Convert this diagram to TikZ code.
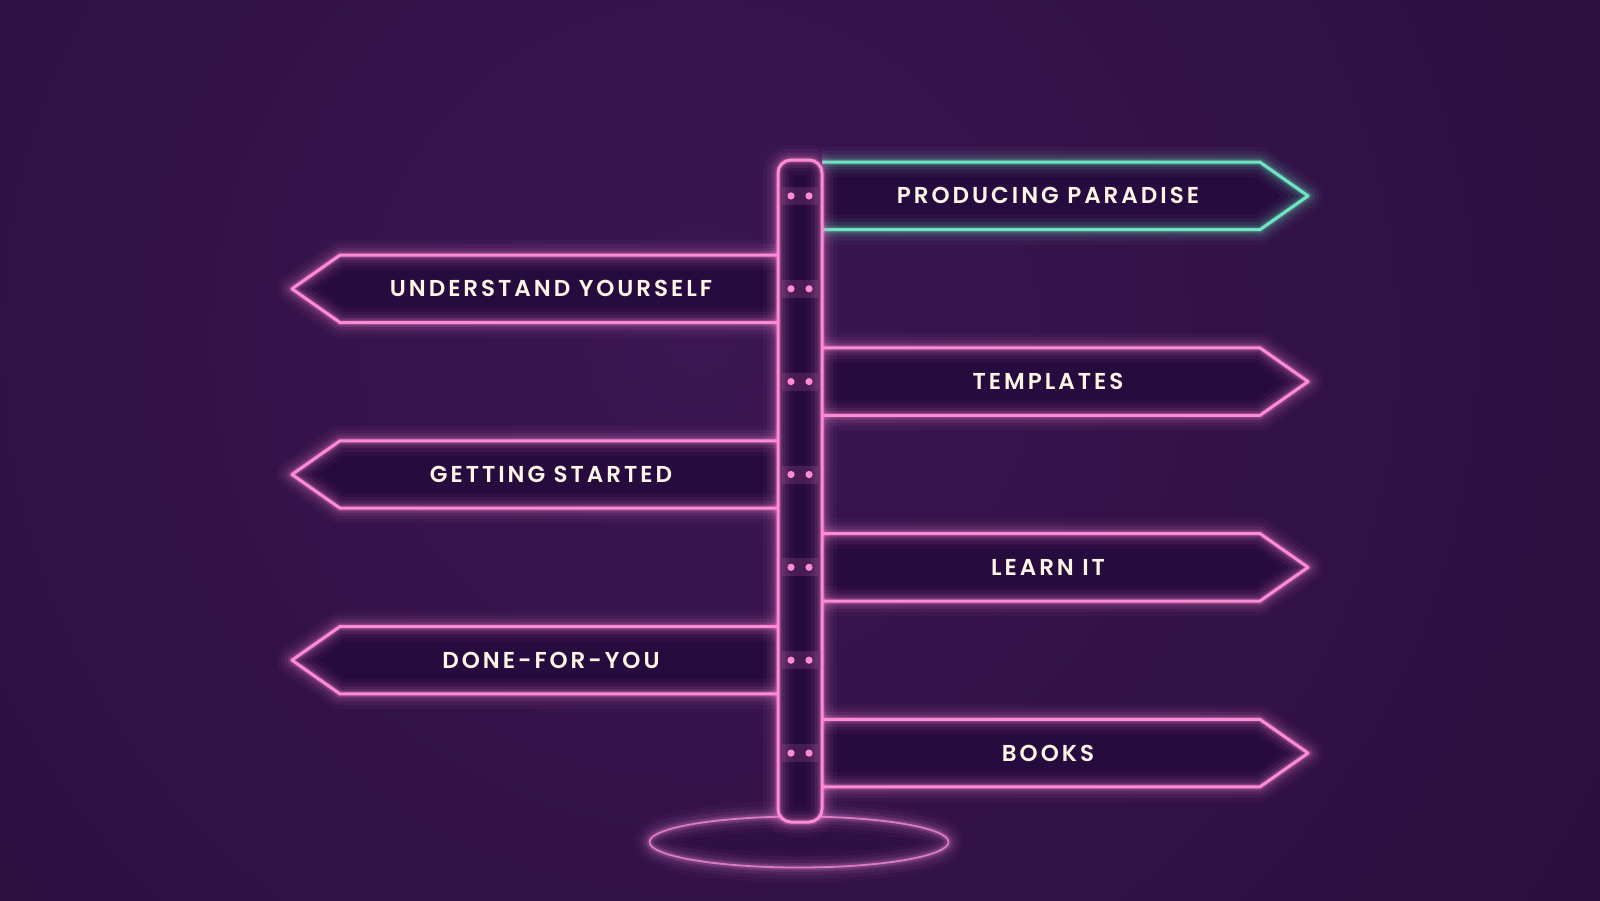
\documentclass[tikz,border=0pt]{standalone}
\usepackage{fontspec}
\newfontfamily\labfont{Poppins SemiBold}[LetterSpace=13]
\definecolor{bgA}{HTML}{280C37}
\definecolor{bgB}{HTML}{3B1652}
\definecolor{boxfill}{HTML}{280B3E}
\definecolor{neonpink}{HTML}{FF8AD6}
\definecolor{neonteal}{HTML}{6FE6C2}
\definecolor{ringpink}{HTML}{D97CC4}
\definecolor{labtext}{HTML}{FFF6E6}
\tikzset{
  lab/.style={text=labtext, font=\labfont\fontsize{23}{27}\selectfont, inner sep=0pt, anchor=center},
}
\newcommand\neonpath[3][3]{%
  \foreach \w/\o in {30/0.035,22/0.06,15/0.09,9/0.13,5.5/0.2}{
    \draw[draw=#2, line width=\w pt, draw opacity=\o, line join=round] #3;}
  \draw[draw=#2, line width=#1 pt, line join=round] #3;
}
\begin{document}
\begin{tikzpicture}[x=1pt,y=-1pt]
\useasboundingbox (0,0) rectangle (1600,900);
\fill[bgA] (0,0) rectangle (1600,900);
\begin{scope}
  \clip (0,0) rectangle (1600,900);
  \shade[inner color=bgB, outer color=bgA] (700,340) circle (1400);
\end{scope}
% base ellipse
\fill[boxfill, opacity=0.35] (799,842) ellipse [x radius=149.5, y radius=25.5];
\neonpath[1.8]{ringpink}{(799,842) ellipse [x radius=149.5, y radius=25.5]}
% right arrows
\foreach \c/\col in {195.9/neonteal, 381.6/neonpink, 567.3/neonpink, 753.1/neonpink}{
  \fill[boxfill] (822,\c-33.7) -- (1260,\c-33.7) -- (1308,\c) -- (1260,\c+33.7) -- (822,\c+33.7) -- cycle;
  \neonpath{\col}{(822,\c-33.7) -- (1260,\c-33.7) -- (1308,\c) -- (1260,\c+33.7) -- (822,\c+33.7)}
}
% left arrows
\foreach \c in {288.8, 474.5, 660.2}{
  \fill[boxfill] (778,\c-33.7) -- (340,\c-33.7) -- (292,\c) -- (340,\c+33.7) -- (778,\c+33.7) -- cycle;
  \neonpath{neonpink}{(778,\c-33.7) -- (340,\c-33.7) -- (292,\c) -- (340,\c+33.7) -- (778,\c+33.7)}
}
% post
\fill[boxfill, rounded corners=13] (778,160) rectangle (822,822);
\neonpath{neonpink}{[rounded corners=13] (778,160) rectangle (822,822)}
% dots
\foreach \c in {195.9, 288.8, 381.6, 474.5, 567.3, 660.2, 753.1}{
  \fill[neonpink, opacity=0.14] (782,\c-9) rectangle (818,\c+9);
  \fill[neonpink] (791,\c) circle (3.6) (809,\c) circle (3.6);
}
% labels
\node[lab] (pp) at (1048,195.9) {PRODUCING PARADISE};
\node[lab] (uy) at (551,288.8) {UNDERSTAND YOURSELF};
\node[lab] (tp) at (1048,381.6) {TEMPLATES};
\node[lab] (gs) at (551,474.5) {GETTING STARTED};
\node[lab] (li) at (1048,567.3) {LEARN IT};
\node[lab] (df) at (551,660.2) {DONE-FOR-YOU};
\node[lab] (bk) at (1048,753.1) {BOOKS};
\end{tikzpicture}
\end{document}
